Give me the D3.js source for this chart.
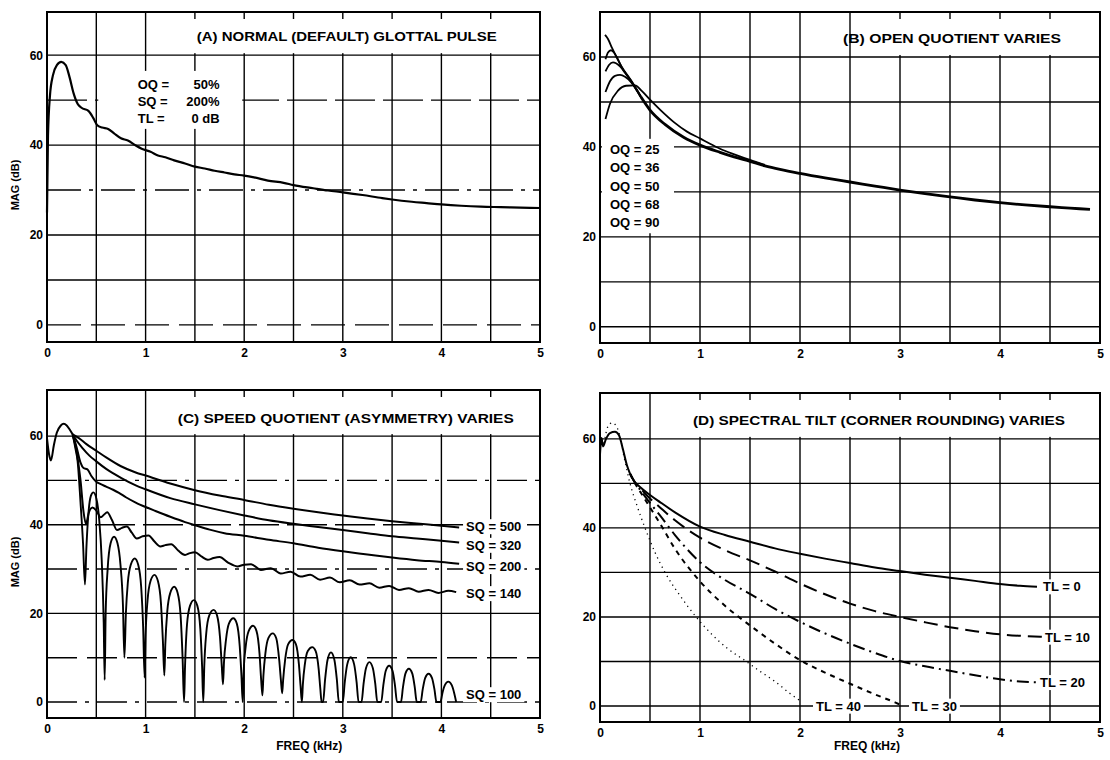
<!DOCTYPE html>
<html>
<head>
<meta charset="utf-8">
<script src="https://cdn.jsdelivr.net/npm/d3@7"></script>
<style>
  body { margin: 0; background: #fff; }
  text { font-family: "Liberation Sans", Arial, sans-serif; font-weight: bold; fill: #000; }
</style>
</head>
<body>
<svg id="chart" width="1110" height="760"></svg>
<script>
// axes + grid
var freqTicks = [0, 1, 2, 3, 4, 5];
var magTicks = [0, 20, 40, 60];
var gridFreq = [0.5, 1, 1.5, 2, 2.5, 3, 3.5, 4, 4.5];
var gridMag = [0, 10, 20, 30, 40, 50, 60];

// (A) normal glottal pulse, [kHz, dB]
var normalPulse = [[0,25],[0.01,42],[0.03,51],[0.06,55.5],[0.1,57.8],[0.145,58.5],[0.19,57.8],[0.23,55],[0.27,51.5],
  [0.31,49.2],[0.35,48.3],[0.42,47.6],[0.47,46],[0.51,44.4],[0.56,43.9],[0.62,43.6],[0.68,42.6],[0.75,41.5],[0.82,41],
  [0.9,39.9],[0.96,39.2],[1.05,38.5],[1.125,37.7],[1.2,37.3],[1.29,36.6],[1.4,35.9],[1.5,35.2],[1.6,34.8],[1.7,34.3],
  [1.8,33.9],[1.9,33.5],[2,33.2],[2.1,32.8],[2.24,32.1],[2.4,31.6],[2.5,31.1],[2.7,30.4],[2.85,29.9],[3,29.5],[3.2,28.9],
  [3.4,28.2],[3.5,27.9],[3.7,27.4],[3.85,27.1],[4,26.8],[4.2,26.5],[4.4,26.3],[4.6,26.2],[4.8,26.1],[5,26]];
var normalParams = ["OQ =", "SQ =", "TL ="];
var normalValues = ["50%", "200%", "0 dB"];

// (B) open quotient varies
var oq90 = [[0.05,64.9],[0.08,64],[0.12,62],[0.16,60.2],[0.215,57.9],[0.31,54.8],[0.41,51.2]];
var oq68 = [[0.055,59.5],[0.08,61],[0.11,61.5],[0.14,61],[0.17,59.9],[0.215,57.8],[0.31,54.7],[0.41,51.1]];
var oq50 = [[0.055,56.8],[0.09,58.2],[0.13,58.8],[0.16,58.6],[0.2,57.9],[0.25,56.5],[0.31,54.6],[0.41,51]];
var oq36 = [[0.055,52.2],[0.1,54.6],[0.15,55.8],[0.2,56],[0.25,55.6],[0.31,54.4],[0.41,51]];
var oq25 = [[0.055,46.2],[0.1,49.6],[0.18,52.5],[0.26,53.6],[0.35,53.7],[0.42,52.4],[0.5,50.5],[0.6,48.3],[0.745,45.4],
  [0.87,43.4],[1,41.9],[1.1,40.7],[1.2,39.6],[1.35,38.3],[1.5,37.1],[1.65,36]];
var oqTail = [[0.41,51.1],[0.5,48.2],[0.65,45],[0.84,42.1],[1,40.4],[1.2,38.8],[1.34,37.8],[1.5,36.8],[1.65,35.8],
  [1.8,35],[2,34.1],[2.25,33.1],[2.5,32.2],[2.75,31.3],[3,30.4],[3.25,29.6],[3.5,28.9],[3.75,28.2],[4,27.6],
  [4.25,27.1],[4.5,26.7],[4.7,26.4],[4.9,26.1]];
var oqLabels = ["OQ = 25", "OQ = 36", "OQ = 50", "OQ = 68", "OQ = 90"];

// (C) speed quotient varies
var sqOnset = [[0,59.5],[0.02,56],[0.04,54.5],[0.07,58],[0.1,60.8],[0.14,62.4],[0.17,62.8],[0.2,62.4],[0.23,61.5],[0.26,60.4]];
var sq500 = [[0.26,60.4],[0.32,59.6],[0.4,58.2],[0.5,56.7],[0.6,55.2],[0.75,53.2],[0.9,51.8],[1,51.1],[1.25,49.3],
  [1.5,47.8],[1.75,46.6],[2,45.6],[2.25,44.5],[2.5,43.6],[2.75,42.8],[3,42.1],[3.25,41.4],[3.5,40.8],[3.75,40.3],[4,39.8],[4.18,39.4]];
var sq320 = [[0.26,60.4],[0.3,59],[0.36,57.3],[0.43,55.6],[0.5,54.3],[0.6,52.6],[0.75,50.6],[0.9,48.9],[1,48],[1.25,46],
  [1.5,44.6],[1.75,43.3],[2,42.1],[2.25,41],[2.5,40.2],[2.75,39.5],[3,38.8],[3.25,38.1],[3.5,37.4],[3.75,36.9],[4,36.4],[4.18,36]];
var sq200 = [[0.26,60.4],[0.3,57.5],[0.34,54],[0.37,52.8],[0.41,52.5],[0.45,51],[0.5,49.7],[0.54,49.2],[0.6,48.6],
  [0.67,47.9],[0.73,47.2],[0.8,46.2],[0.9,45],[1,44],[1.1,43.1],[1.25,41.8],[1.4,40.6],[1.5,39.9],[1.65,38.9],[1.8,38.1],
  [2,37.5],[2.25,36.6],[2.5,35.8],[2.75,34.8],[3,34],[3.25,33.3],[3.5,32.6],[3.75,32],[4,31.6],[4.18,31.2]];
var sq140 = [[0.26,60.4],[0.3,56.5],[0.34,50],[0.37,43],[0.395,40.2],[0.425,42.8],[0.46,43.9],[0.5,43.2],[0.545,41.7],
  [0.58,42.3],[0.61,42.8],[0.66,41],[0.71,38.8],[0.76,39.3],[0.81,39.6],[0.86,38.2],[0.91,36.9],[0.97,37.4],[1.03,37.6],
  [1.09,36.2],[1.15,35.1],[1.2,35.4],[1.26,35.6],[1.33,34.2],[1.4,33.2],[1.45,33.6],[1.5,33.8],[1.57,32.8],[1.63,32.1],
  [1.69,32.5],[1.75,32.7],[1.84,31.4],[1.93,30.6],[2,31],[2.07,31.1],[2.17,29.8],[2.27,30.2],[2.37,29],[2.47,29.4],
  [2.57,28.3],[2.67,28.7],[2.77,27.6],[2.87,28.1],[2.97,27],[3.07,27.5],[3.17,26.5],[3.27,26.8],[3.37,25.8],[3.47,26.2],
  [3.57,25.3],[3.67,25.7],[3.77,24.9],[3.87,25.3],[3.97,24.6],[4.07,25.1],[4.15,24.8]];
var sq100 = [[0.26,60.4],[0.29,57],[0.31,54.4],[0.34,45],[0.365,36],[0.385,26.5],
  [0.4,35],[0.42,42.5],[0.445,46.5],[0.47,47.3],[0.5,46],[0.53,41],[0.555,32],[0.575,18],[0.585,5],
  [0.595,20],[0.615,30],[0.645,35.8],[0.68,37.3],[0.715,35.8],[0.745,31],[0.77,22],[0.785,10],
  [0.8,20],[0.82,27],[0.85,31],[0.89,32.4],[0.925,31],[0.955,26],[0.975,17],[0.99,5.5],
  [1,15],[1.02,23],[1.05,27.3],[1.09,28.7],[1.125,27.3],[1.155,22.5],[1.175,14],[1.19,6],
  [1.2,13],[1.22,20.5],[1.25,24.6],[1.29,26],[1.325,24.6],[1.355,19.5],[1.375,10],[1.39,0],
  [1.4,8],[1.42,17.5],[1.45,21.7],[1.49,23],[1.525,21.7],[1.555,16.5],[1.573,8],[1.585,0],
  [1.595,8],[1.615,15.5],[1.645,19.5],[1.69,20.8],[1.725,19.5],[1.755,14.5],[1.773,8],[1.785,4],
  [1.795,9],[1.815,14],[1.845,17.7],[1.89,18.9],[1.925,17.7],[1.955,12.5],[1.972,6],[1.985,0],
  [1.995,7],[2.015,12.5],[2.045,16],[2.09,17.2],[2.125,16],[2.155,11],[2.172,5],[2.185,1.5],
  [2.195,6],[2.215,11],[2.245,14.4],[2.29,15.5],[2.325,14.4],[2.355,9.5],[2.372,5],[2.385,2],
  [2.395,5],[2.415,9.5],[2.445,13],[2.49,14],[2.525,13],[2.555,8.5],[2.572,3.5],[2.585,0],
  [2.595,4],[2.615,8.5],[2.645,11.5],[2.69,12.4],[2.725,11.5],[2.755,7.5],[2.772,3],[2.785,0],
  [2.8,0],[2.82,5],[2.845,9.5],[2.88,11.2],[2.915,9.5],[2.94,5],[2.96,0],
  [3,0],[3.02,4.5],[3.045,8.5],[3.08,10.1],[3.115,8.5],[3.14,4.5],[3.16,0],
  [3.19,0],[3.21,4],[3.235,7.6],[3.27,9],[3.305,7.6],[3.33,4],[3.35,0],
  [3.39,0],[3.41,3.6],[3.435,7],[3.47,8.2],[3.505,7],[3.53,3.6],[3.55,0],
  [3.59,0],[3.61,3.3],[3.635,6.4],[3.67,7.5],[3.705,6.4],[3.73,3.3],[3.75,0],
  [3.79,0],[3.81,2.8],[3.835,5.4],[3.87,6.4],[3.905,5.4],[3.93,2.8],[3.95,0],
  [3.99,0],[4.01,2],[4.035,3.8],[4.07,4.6],[4.105,3.8],[4.13,2],[4.15,0]];
var sqLabels = ["SQ = 500", "SQ = 320", "SQ = 200", "SQ = 140", "SQ = 100"];

// (D) spectral tilt varies
var tlOnset = [[0,56.5],[0.015,60.2],[0.03,58.3],[0.06,60],[0.1,61.3],[0.15,61.6],[0.19,60.8],[0.23,57.6],[0.27,54],[0.3,52.2]];
var tl0 = [[0.3,52.2],[0.35,50.3],[0.4,49.2],[0.5,47.4],[0.6,45.8],[0.75,43.5],[1,40.3],[1.25,38.4],[1.5,36.9],[1.75,35.4],
  [2,34.2],[2.25,33.1],[2.5,32.1],[2.75,31.1],[3,30.3],[3.25,29.5],[3.5,28.8],[3.75,28.1],[4,27.4],[4.2,27],[4.37,26.8]];
var tl10 = [[0.3,52.2],[0.35,50.2],[0.4,49],[0.5,46.6],[0.6,44.6],[0.75,41.7],[1,37.8],[1.25,35],[1.5,32.7],[1.75,30.2],
  [2,27.5],[2.25,25.1],[2.5,23],[2.75,21.3],[3,20],[3.25,18.8],[3.5,17.7],[3.75,16.8],[4,16.1],[4.25,15.7],[4.45,15.5]];
var tl20 = [[0.3,52.2],[0.35,50.1],[0.4,48.6],[0.5,45.6],[0.6,42.8],[0.75,38.4],[1,32.3],[1.25,28.3],[1.5,25.2],[1.75,21.8],
  [2,18.9],[2.25,16.3],[2.5,14],[2.75,11.9],[3,10.1],[3.25,8.9],[3.5,7.9],[3.75,6.9],[4,6],[4.2,5.5],[4.38,5.3]];
var tl30 = [[0.3,52.2],[0.35,50],[0.4,48.2],[0.5,44.6],[0.6,41],[0.75,35.3],[1,28],[1.25,22.5],[1.5,18.1],[1.75,14],
  [2,10.3],[2.25,7.5],[2.5,5],[2.75,2.6],[2.95,0.8],[3,0.3]];
var tl40 = [[0.04,59],[0.08,62.8],[0.12,63.6],[0.16,63],[0.2,60.5],[0.24,56],[0.3,50],[0.37,45],[0.45,40],[0.55,34.5],
  [0.65,30],[0.8,24.8],[0.95,20.3],[1.1,16.5],[1.27,13],[1.45,10.2],[1.6,7.8],[1.75,5.5],[1.9,2.8],[2,1.2]];
var tlLabels = ["TL = 0", "TL = 10", "TL = 20", "TL = 30", "TL = 40"];

var svg = d3.select("#chart");
var line = function(p) {
  return d3.line().x(function(d){ return p.x(d[0]); }).y(function(d){ return p.y(d[1]); }).curve(d3.curveMonotoneX);
};

function drawPanel(o) {
  var x = d3.scaleLinear().domain([0, 5]).range([o.left, o.right]);
  var y = d3.scaleLinear().domain(o.yDomain).range([o.bottom, o.top]);
  var g = svg.append("g");

  g.selectAll(".vgrid").data(gridFreq).enter().append("line")
    .attr("x1", function(d){ return x(d); }).attr("x2", function(d){ return x(d); })
    .attr("y1", o.top).attr("y2", o.bottom)
    .attr("stroke", "#000").attr("stroke-width", 1.4);
  g.selectAll(".hgrid").data(gridMag).enter().append("line")
    .attr("x1", o.left).attr("x2", o.right)
    .attr("y1", function(d){ return y(d); }).attr("y2", function(d){ return y(d); })
    .attr("stroke", "#000").attr("stroke-width", 1.4)
    .attr("stroke-dasharray", function(d){ return o.dash[d] || null; });

  // white patch under the title
  g.append("rect")
    .attr("x", x(o.titleBox[0])).attr("y", o.top + 7)
    .attr("width", x(o.titleBox[1]) - x(o.titleBox[0]))
    .attr("height", y(60) - 2 - (o.top + 7))
    .attr("fill", "#fff");
  g.append("text")
    .attr("x", x(o.titleAt)).attr("y", y(64)).attr("dy", "0.36em")
    .attr("text-anchor", "middle").attr("font-size", 12)
    .attr("textLength", o.titleLen).attr("lengthAdjust", "spacingAndGlyphs")
    .text(o.title);

  var xAxis = g.append("g").attr("transform", "translate(0," + (o.bottom + 6) + ")")
    .call(d3.axisBottom(x).tickValues(freqTicks).tickFormat(d3.format("d")).tickSize(0).tickPadding(0));
  xAxis.select(".domain").remove();
  xAxis.selectAll("text").attr("font-size", 12).attr("font-family", null);

  var yAxis = g.append("g").attr("transform", "translate(" + (o.left - 4) + ",0)")
    .call(d3.axisLeft(y).tickValues(magTicks).tickFormat(d3.format("d")).tickSize(0).tickPadding(0));
  yAxis.select(".domain").remove();
  yAxis.selectAll("text").attr("font-size", 12).attr("font-family", null);

  var frame = svg.append("rect")
    .attr("x", o.left).attr("y", o.top)
    .attr("width", o.right - o.left).attr("height", o.bottom - o.top)
    .attr("fill", "none").attr("stroke", "#000").attr("stroke-width", 2);

  return { g: g, x: x, y: y, frame: frame };
}

function whiteBox(p, f0, f1, m0, m1) {
  p.g.append("rect")
    .attr("x", p.x(f0)).attr("y", p.y(m1))
    .attr("width", p.x(f1) - p.x(f0)).attr("height", p.y(m0) - p.y(m1))
    .attr("fill", "#fff");
}

function curve(p, data, width, dash) {
  p.g.append("path").datum(data)
    .attr("d", line(p))
    .attr("fill", "none").attr("stroke", "#000")
    .attr("stroke-width", width)
    .attr("stroke-linejoin", "round")
    .attr("stroke-dasharray", dash || null);
}

function label(p, txt, f, m, anchor) {
  var t = p.g.append("text")
    .attr("x", p.x(f)).attr("y", p.y(m)).attr("dy", "0.36em")
    .attr("text-anchor", anchor || "start").attr("font-size", 13)
    .text(txt);
  var b = t.node().getBBox();
  p.g.insert("rect", function(){ return t.node(); })
    .attr("x", b.x - 3).attr("y", b.y).attr("width", b.width + 6).attr("height", b.height)
    .attr("fill", "#fff");
  return t;
}

function axisTitles(p, showX, yMid) {
  svg.append("text")
    .attr("transform", "translate(19," + yMid + ") rotate(-90)")
    .attr("text-anchor", "middle").attr("font-size", 11)
    .text("MAG (dB)");
  if (showX) {
    svg.append("text")
      .attr("x", p.x(2.66)).attr("y", 750)
      .attr("text-anchor", "middle").attr("font-size", 12)
      .text("FREQ (kHz)");
  }
}

// ---- (A)
var pA = drawPanel({ left: 47, right: 540, top: 12, bottom: 342, yDomain: [-3.8, 69.6],
  dash: { 0: "34,10", 30: "34,8,4,8", 50: "40,8" },
  title: "(A)  NORMAL (DEFAULT) GLOTTAL PULSE", titleAt: 3.04, titleLen: 300, titleBox: [1.35, 4.97] });
whiteBox(pA, 0.52, 1.98, 43.6, 56.5);
curve(pA, normalPulse, 2.2);
normalParams.forEach(function(s, i) {
  pA.g.append("text").attr("x", pA.x(0.92)).attr("y", pA.y([53.6, 49.7, 45.9][i])).attr("dy", "0.36em")
    .attr("font-size", 13).text(s);
  pA.g.append("text").attr("x", pA.x(1.75)).attr("y", pA.y([53.6, 49.7, 45.9][i])).attr("dy", "0.36em")
    .attr("font-size", 13).attr("text-anchor", "end").text(normalValues[i]);
});
axisTitles(pA, false, 185);

// ---- (B)
var pB = drawPanel({ left: 600, right: 1100, top: 12, bottom: 343, yDomain: [-3.6, 70],
  dash: {},
  title: "(B)  OPEN QUOTIENT VARIES", titleAt: 3.52, titleLen: 218, titleBox: [2.6, 4.97] });
whiteBox(pB, 0.02, 0.74, 20.8, 41.8);
[oq90, oq68, oq50, oq36].forEach(function(d){ curve(pB, d, 1.8); });
curve(pB, oq25, 1.8);
curve(pB, oqTail, 2.8);
oqLabels.forEach(function(s, i) {
  pB.g.append("text").attr("x", pB.x(0.1)).attr("y", pB.y([39.5, 35.4, 31.3, 27.2, 23.2][i])).attr("dy", "0.36em")
    .attr("font-size", 13).text(s);
});

// ---- (C)
var pC = drawPanel({ left: 47, right: 540, top: 390, bottom: 718, yDomain: [-3.6, 70.4],
  dash: { 0: "30,8,4,8", 10: "30,10", 30: "30,8,4,8", 40: "40,8", 50: "30,8,4,8" },
  title: "(C)  SPEED QUOTIENT (ASYMMETRY) VARIES", titleAt: 3.03, titleLen: 336, titleBox: [1.25, 4.97] });
curve(pC, sqOnset, 2);
[sq500, sq320, sq200, sq140].forEach(function(d){ curve(pC, d, 2); });
curve(pC, sq100, 1.9);
sqLabels.forEach(function(s, i) {
  label(pC, s, 4.25, [39.6, 35.4, 30.6, 24.5, 1.7][i]);
});
axisTitles(pC, true, 562);

// ---- (D)
var pD = drawPanel({ left: 600, right: 1100, top: 393, bottom: 722, yDomain: [-3.6, 70.3],
  dash: {},
  title: "(D)  SPECTRAL TILT (CORNER ROUNDING) VARIES", titleAt: 2.79, titleLen: 372, titleBox: [0.92, 4.97] });
curve(pD, tlOnset, 2);
curve(pD, tl0, 2);
curve(pD, tl10, 2, "14,7");
curve(pD, tl20, 2, "12,5,2,5");
curve(pD, tl30, 2, "5,5");
curve(pD, tl40, 1.3, "1.2,4");
label(pD, tlLabels[0], 4.43, 26.8);
label(pD, tlLabels[1], 4.45, 15.5);
label(pD, tlLabels[2], 4.4, 5.3);
label(pD, tlLabels[3], 3.12, 0);
label(pD, tlLabels[4], 2.16, 0);
svg.append("text")
  .attr("x", pD.x(2.67)).attr("y", 750)
  .attr("text-anchor", "middle").attr("font-size", 12)
  .text("FREQ (kHz)");
</script>
</body>
</html>
